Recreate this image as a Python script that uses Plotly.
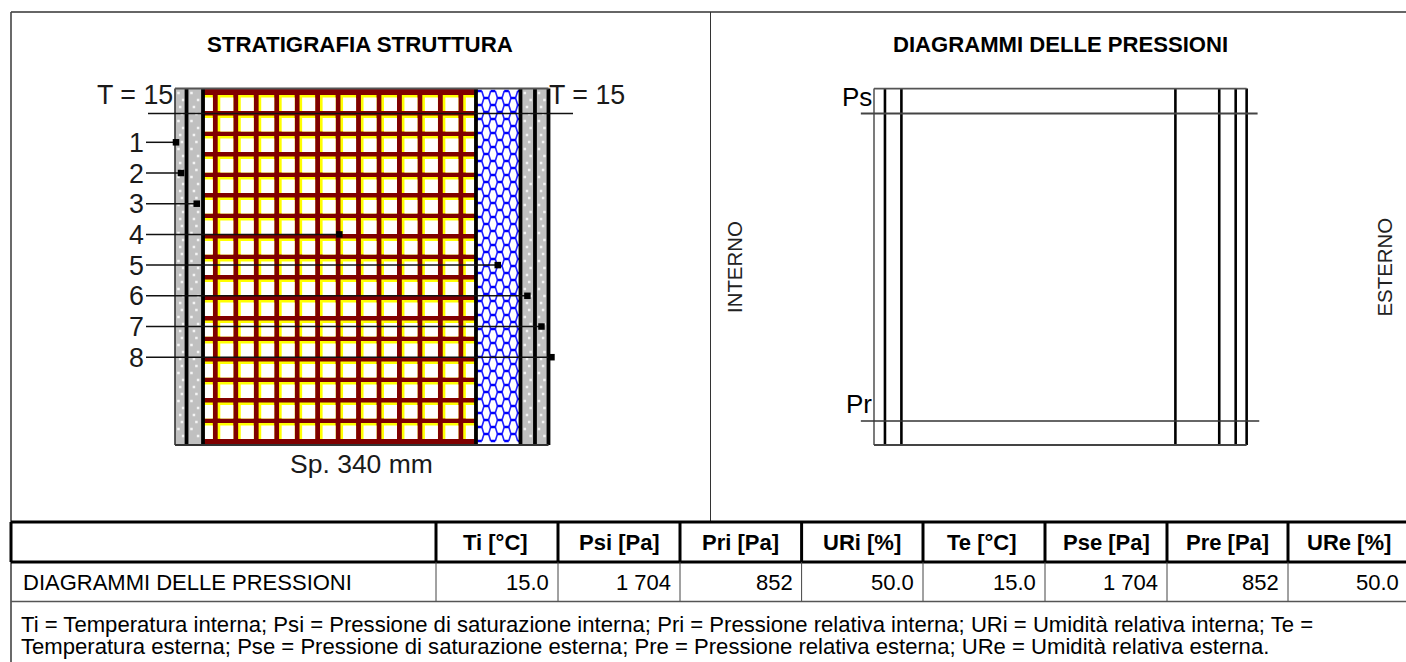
import plotly.graph_objects as go

# ---- data ----
section_layers_mm = [10.5, 15, 248.5, 40.5, 13.2, 12.3]
pressure_layers_mm = [10, 15, 250, 40, 15, 10]
point_labels = ["1", "2", "3", "4", "5", "6", "7", "8"]
point_depth_mm = [0.9, 5.5, 19.8, 149.6, 293.8, 320.8, 333.6, 342.7]
Ps_pa = 1704
Pr_pa = 852
pressure_span_pa = [785.5, 1773]
table_headers = ["Ti [°C]", "Psi [Pa]", "Pri [Pa]", "URi [%]", "Te [°C]", "Pse [Pa]", "Pre [Pa]", "URe [%]"]
table_row_name = "DIAGRAMMI DELLE PRESSIONI"
table_values = ["15.0", "1 704", "852", "50.0", "15.0", "1 704", "852", "50.0"]
foot_1 = "Ti = Temperatura interna; Psi = Pressione di saturazione interna; Pri = Pressione relativa interna; URi = Umidità relativa interna; Te ="
foot_2 = "Temperatura esterna; Pse = Pressione di saturazione esterna; Pre = Pressione relativa esterna; URe = Umidità relativa esterna."

# ---- page geometry ----
W, H = 1406, 662
FONT = "Liberation Sans"
col_x = [436, 558, 680, 801.6, 923, 1045, 1167, 1288, 1410]
SEC_X0, SEC_K = 175.0, 1.0985
PR_X0, PR_K = 874.0, 1.096
SEC_TOP, SEC_BOT = 88.5, 445.0
PX_PER_PA = 307.5 / 852.0
PS_Y = 113.5


def mm(px):
    return (px - SEC_X0) / SEC_K


def cum(v):
    out = [0.0]
    for t in v:
        out.append(out[-1] + t)
    return out


sec_edges = cum(section_layers_mm)
pr_edges = cum(pressure_layers_mm)
fig = go.Figure()


def section(xs, ys, **kw):
    fig.add_trace(go.Scatter(x=xs, y=ys, xaxis="x2", yaxis="y", hoverinfo="skip", showlegend=False, **kw))


def rects(boxes):
    xs, ys = [], []
    for x0, y0, x1, y1 in boxes:
        xs += [mm(x0), mm(x1), mm(x1), mm(x0), mm(x0), None]
        ys += [y0, y0, y1, y1, y0, None]
    return xs, ys


def fill(boxes, color):
    xs, ys = rects(boxes)
    section(xs, ys, mode="lines", line=dict(width=0), fill="toself", fillcolor=color)


to_px = lambda m: SEC_X0 + m * SEC_K
edges_px = [to_px(e) for e in sec_edges]

# layer fills
fill([(edges_px[0], SEC_TOP, edges_px[2], SEC_BOT), (edges_px[4], SEC_TOP, edges_px[6], SEC_BOT)], "#c0c0c0")
fill([(edges_px[2], SEC_TOP, edges_px[3], SEC_BOT)], "#800000")

# brick texture
bx0, bx1 = edges_px[2] + 1.5, edges_px[3] - 1.5
PXX, PXY, CW, CH, LIP = 20.46, 20.5, 15.6, 16.0, 2.6
col_starts = [217.7 + PXX * i for i in range(-1, 13)]
row_starts = [95.0 + PXY * j for j in range(17)]
yellow, white = [], []
for cx in col_starts:
    for cy in row_starts:
        xa, xb = max(cx, bx0), min(cx + CW, bx1)
        yellow.append((xa, cy, xb, cy + CH))
        white.append((max(cx + LIP, bx0), cy + LIP, xb, cy + CH))
fill(yellow, "#ffff00")
fill(white, "#ffffff")

# insulation
ix0, ix1 = edges_px[3], edges_px[4]
fill([(ix0, SEC_TOP, ix1, SEC_BOT)], "#ffffff")
HEX_PX, HEX_ROW, BAR = 13.5, 7.0, 4.6
bar_x, bar_y, diag_x, diag_y = [], [], [], []


def clipseg(xout, yout, x0, y0, x1, y1):
    if max(x0, x1) <= ix0 or min(x0, x1) >= ix1:
        return
    def at(x):
        return y0 + (y1 - y0) * (x - x0) / (x1 - x0)
    xa, xb = max(min(x0, x1), ix0), min(max(x0, x1), ix1)
    xout.extend([mm(xa), mm(xb), None])
    yout.extend([at(xa), at(xb), None])


r = 0
y = 91.0
while y < SEC_BOT - 1:
    off = 0 if r % 2 == 0 else HEX_PX / 2
    for c in range(-1, 5):
        cx = ix0 + 3.5 + off + c * HEX_PX
        clipseg(bar_x, bar_y, cx - BAR / 2, y, cx + BAR / 2, y)
        if y + HEX_ROW < SEC_BOT:
            clipseg(diag_x, diag_y, cx + BAR / 2, y, cx + HEX_PX / 2 - BAR / 2, y + HEX_ROW)
            clipseg(diag_x, diag_y, cx - BAR / 2, y, cx - HEX_PX / 2 + BAR / 2, y + HEX_ROW)
    r += 1
    y += HEX_ROW
section(diag_x, diag_y, mode="lines", line=dict(color="#2020ff", width=1.6))
section(bar_x, bar_y, mode="lines", line=dict(color="#0000ff", width=2.5))

# plaster specks
dx, dy = [], []
for a, b in ((0, 1), (1, 2), (4, 5), (5, 6)):
    xl, xr = edges_px[a], edges_px[b]
    yy, i = 93.0, 0
    while yy < SEC_BOT - 3:
        frac = (0.3, 0.7, 0.45, 0.6)[i % 4]
        dx.append(mm(xl + (xr - xl) * frac))
        dy.append(yy)
        yy += 7.0
        i += 1
section(dx, dy, mode="markers", marker=dict(color="#f4f4f4", size=2.5, symbol="square", line=dict(width=0)))

# layer outlines
for i, e in enumerate(sec_edges):
    w = 1.6 if i == 0 else 3.8
    section([e, e], [SEC_TOP, SEC_BOT], mode="lines", line=dict(color="#000000" if i else "#333333", width=w))
section([0, sec_edges[-1]], [SEC_TOP, SEC_TOP], mode="lines", line=dict(color="#555555", width=1.8))
section([0, sec_edges[-1]], [SEC_BOT, SEC_BOT], mode="lines", line=dict(color="#333333", width=1.8))

# T line, leaders, markers
section([mm(148), mm(573)], [PS_Y, PS_Y], mode="lines", line=dict(color="#111111", width=1.5))
leader_y = [142.3 + 30.7 * i for i in range(len(point_labels))]
for d, ly in zip(point_depth_mm, leader_y):
    section([mm(146), d], [ly, ly], mode="lines", line=dict(color="#111111", width=1.5))
section(point_depth_mm, leader_y, mode="markers", marker=dict(color="#000000", size=6.5, symbol="square", line=dict(width=0)))

# pressure diagram
def pres(xs, ys, color, width):
    fig.add_trace(go.Scatter(x=xs, y=ys, xaxis="x3", yaxis="y2", mode="lines", hoverinfo="skip",
                             showlegend=False, line=dict(color=color, width=width)))


pres([0, 0], pressure_span_pa, "#333333", 1.3)
for e in pr_edges[1:]:
    pres([e, e], pressure_span_pa, "#000000", 2.6)
pres([0, pr_edges[-1]], [pressure_span_pa[1]] * 2, "#555555", 1.8)
pres([0, pr_edges[-1]], [pressure_span_pa[0]] * 2, "#444444", 1.8)
pres([-12, 350], [Ps_pa, Ps_pa], "#444444", 2.0)
pres([-12, 351.5], [Pr_pa, Pr_pa], "#333333", 1.5)

# frame and table
shapes = []


def line(x0, y0, x1, y1, color="#000000", width=1.0):
    shapes.append(dict(type="line", xref="x", yref="y", x0=x0, y0=y0, x1=x1, y1=y1,
                       line=dict(color=color, width=width), layer="below"))


line(11, 12, W, 12, "#333333", 1.6)
line(11, 12, 11, H, "#444444", 1.6)
line(710.5, 12, 710.5, 522, "#333333", 1.0)
line(11, 522, W, 522, "#000000", 3.0)
line(11, 562, W, 562, "#000000", 3.0)
line(11, 522, 11, 562, "#000000", 3.0)
for cx in col_x[:-1]:
    line(cx, 522, cx, 562, "#000000", 3.0)
    line(cx, 562, cx, 601.5, "#444444", 1.0)
line(11, 601.5, W, 601.5, "#555555", 1.6)

# text
ann = []


def text(x, y, s, size=22, bold=False, anchor="center", color="#000000", angle=0):
    ann.append(dict(x=x, y=y, xref="x", yref="y", text=f"<b>{s}</b>" if bold else s, showarrow=False,
                    xanchor=anchor, yanchor="middle", textangle=angle, borderpad=0,
                    font=dict(family=FONT, size=size, color=color)))


text(360, 44, "STRATIGRAFIA STRUTTURA", 22.3, bold=True)
text(1060.5, 44, "DIAGRAMMI DELLE PRESSIONI", 22.1, bold=True)
text(174, 95, "T = 15", 26.8, anchor="right", color="#1a1a1a")
text(548, 95, "T = 15", 26.8, anchor="left", color="#1a1a1a")
for lab, ly in zip(point_labels, leader_y):
    text(136, ly + 0.5, lab, 26.8, color="#1a1a1a")
text(361, 464, "Sp. 340 mm", 26.5, color="#1a1a1a")
text(873, 97, "Ps", 26, anchor="right")
text(873, 404, "Pr", 26, anchor="right")
text(734.5, 267.5, "INTERNO", 20.4, angle=-90, color="#222222")
text(1384, 267.5, "ESTERNO", 20.4, angle=-90, color="#222222")
for i, h in enumerate(table_headers):
    text((col_x[i] + col_x[i + 1]) / 2 - (2 if i in (0, 4) else 0), 542, h, 22, bold=True)
text(21.5, 582, table_row_name, anchor="left")
for i, v in enumerate(table_values):
    text(col_x[i + 1] - 8 if i < 7 else 1400, 582, v, anchor="right")
text(19.5, 624, foot_1, 22.1, anchor="left")
text(19.5, 646, foot_2, 22.1, anchor="left")

axis = dict(visible=False, fixedrange=True)
fig.update_layout(
    width=W, height=H, margin=dict(l=0, r=0, t=0, b=0), autosize=False,
    paper_bgcolor="#ffffff", plot_bgcolor="#ffffff", showlegend=False,
    xaxis=dict(range=[0, W], **axis),
    yaxis=dict(range=[H, 0], **axis),
    xaxis2=dict(range=[mm(0), mm(W)], overlaying="x", **axis),
    yaxis2=dict(range=[Ps_pa - (H - PS_Y) / PX_PER_PA, Ps_pa + PS_Y / PX_PER_PA], overlaying="y", **axis),
    xaxis3=dict(range=[-PR_X0 / PR_K, (W - PR_X0) / PR_K], overlaying="x", **axis),
    shapes=shapes, annotations=ann,
)
fig.write_html("out.html", default_width=f"{W}px", default_height=f"{H}px",
               config=dict(displayModeBar=False),
               post_script="document.body.style.margin='0';document.body.style.overflow='hidden';")
